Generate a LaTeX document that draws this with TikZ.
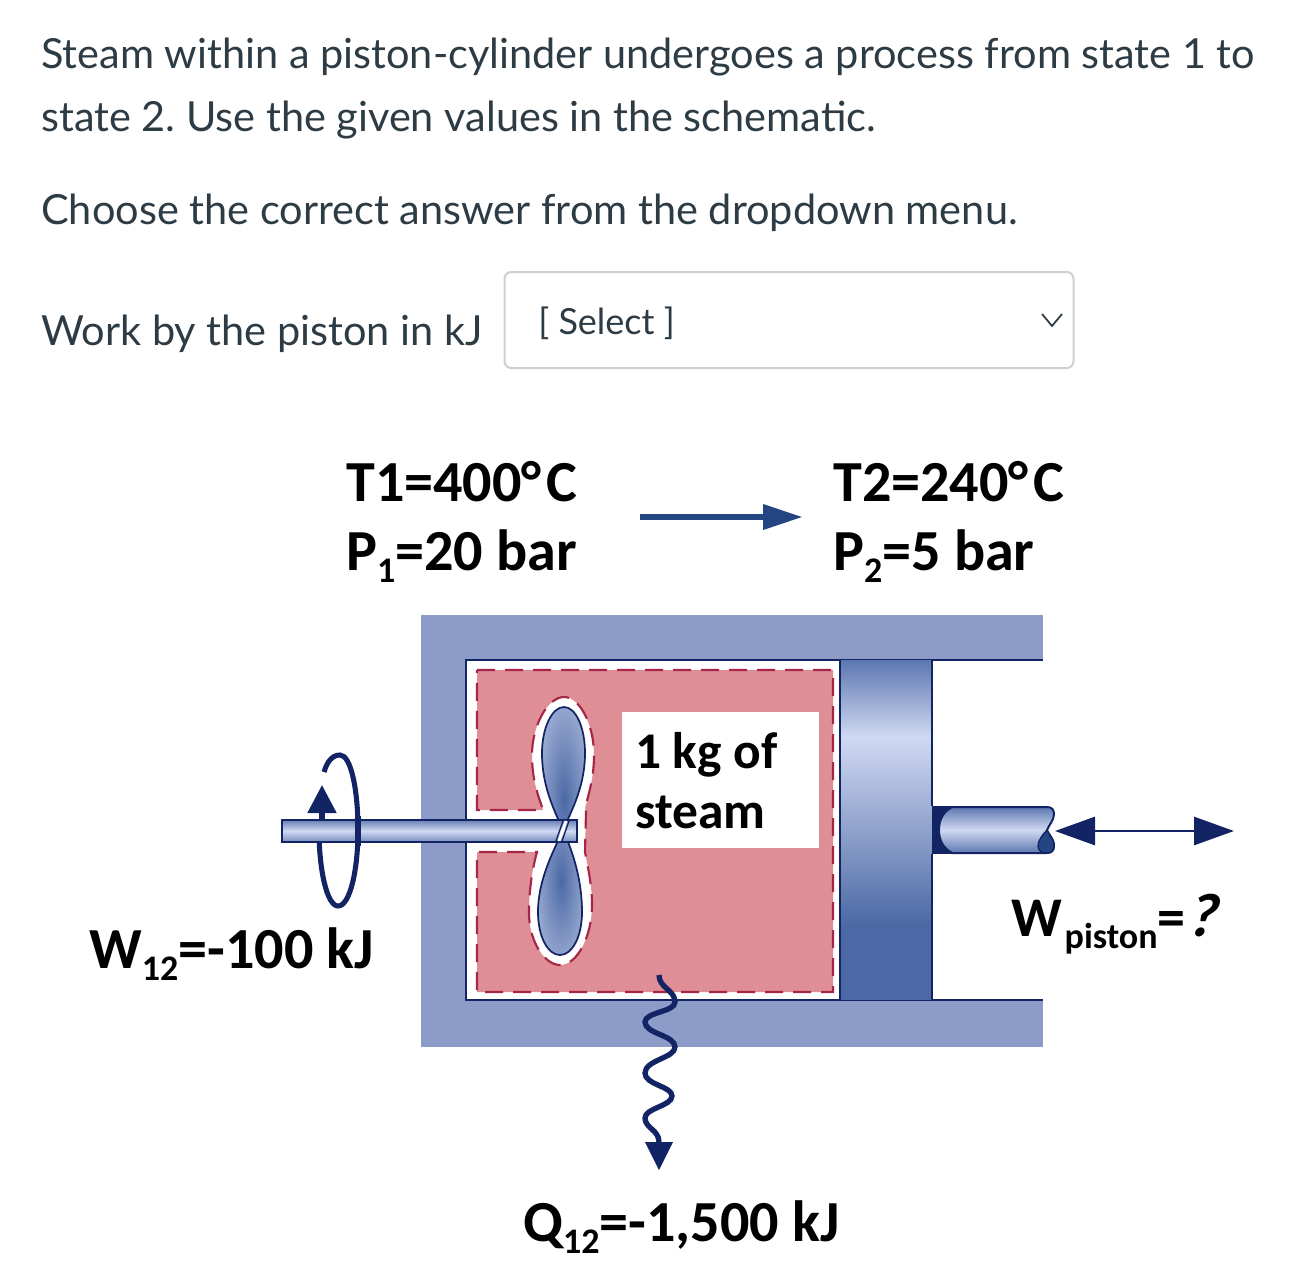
\documentclass[tikz,border=0pt]{standalone}
\usepackage{fontspec}
\setmainfont{Lato}
\newfontfamily\labelfont{Carlito}
\newfontfamily\slantlabel[FakeSlant=0.25]{Carlito Bold}
\usetikzlibrary{arrows.meta}
\frenchspacing

\definecolor{canvastext}{RGB}{45,59,69}
\definecolor{boxline}{RGB}{204,208,210}
\definecolor{wallblue}{RGB}{141,155,200}
\definecolor{navyline}{RGB}{18,36,100}
\definecolor{gaspink}{RGB}{224,142,150}
\definecolor{gasdash}{RGB}{165,38,70}
\definecolor{flowblue}{RGB}{35,70,130}
\definecolor{steelhi}{RGB}{208,217,242}
\definecolor{steelmid}{RGB}{92,119,176}
\definecolor{steellow}{RGB}{76,105,165}

\newcommand{\subtext}[1]{\raisebox{-9.5pt}{\fontsize{27}{27}\selectfont #1}}
\newcommand{\upperlobe}{(563,830) .. controls (553,808) and (542,785) .. (542,753)
	.. controls (542,728) and (552,707) .. (564,707)
	.. controls (576,707) and (585,728) .. (585,753)
	.. controls (585,785) and (573,808) .. (563,830) -- cycle}
\newcommand{\lowerlobe}{(563,830) .. controls (553,852) and (538,880) .. (538,912)
	.. controls (538,937) and (548,955) .. (560,955)
	.. controls (572,955) and (582,937) .. (582,912)
	.. controls (582,880) and (573,852) .. (563,830) -- cycle}

\tikzset{
  question/.style={anchor=base west,inner sep=0pt,text=canvastext,font=\fontsize{31.1}{36}\selectfont},
  given/.style={anchor=base west,inner sep=0pt,text=black,font=\labelfont\bfseries\fontsize{43.6}{50}\selectfont},
  gastext/.style={given,font=\labelfont\bfseries\fontsize{38.6}{46}\selectfont},
  navy/.style={draw=navyline,line width=1.5pt},
  blade/.style={navy,line width=1.3pt},
}

\begin{document}
\begin{tikzpicture}[x=0.75pt,y=0.75pt,yscale=-1,xscale=1]
	\useasboundingbox (0,0) rectangle (1310,1286);
	% question text
	\node[question] (lineone) at (41,68) {Steam within a piston-cylinder undergoes a process from state 1 to};
	\node[question] (linetwo) at (41,131) {state 2. Use the given values in the schematic.};
	\node[question] (linethree) at (41,224) {Choose the correct answer from the dropdown menu.};
	\node[question] (workprompt) at (41,345) {Work by the piston in kJ};
	% dropdown
	\draw[boxline,line width=1.5pt,rounded corners=5pt,fill=white] (504.5,272) rectangle (1073.5,368);
	\node[question,font=\fontsize{27}{32}\selectfont] (selecttext) at (538,334) {[ Select ]};
	\draw[canvastext,line width=1.3pt] (1042,314) -- (1052,326) -- (1062,314);
	% states
	\node[given] (tone) at (346,501) {T1=400°\hspace{3.5pt}C};
	\node[given] (pone) at (346,570) {P\subtext{1}=20 bar};
	\node[given] (ttwo) at (833,501) {T2=240°\hspace{3.5pt}C};
	\node[given] (ptwo) at (833,570) {P\subtext{2}=5 bar};
	\coordinate (statefrom) at (640,517);
	\coordinate (stateto) at (803,517);
	\draw[flowblue,line width=5pt,-{Triangle[length=30pt,width=18pt]}] (statefrom) -- (stateto);
	% cylinder
	\fill[wallblue] (421,615) rectangle (1043,1047);
	\fill[white] (466,660) rectangle (1043,1000);
	\draw[navy] (1043,660) -- (466,660) -- (466,1000) -- (1043,1000);
	% gas region
	\draw[fill=gaspink,draw=gasdash,line width=1.6pt,dash pattern=on 13.5pt off 7.5pt]
		(477,670) -- (833,670) -- (833,992) -- (477,992) -- (477,852) -- (537,852)
		.. controls (532,870) and (529,890) .. (529,913)
		.. controls (529,942) and (545,965) .. (560,965)
		.. controls (578,965) and (592,935) .. (592,905)
		.. controls (592,885) and (588,868) .. (585,852)
		-- (586,812) -- (585,808)
		.. controls (590,790) and (594,775) .. (594,755)
		.. controls (594,725) and (580,697) .. (564,697)
		.. controls (548,697) and (532,725) .. (532,755)
		.. controls (532,780) and (538,795) .. (543,810)
		-- (477,810) -- cycle;
	% paddle wheel
	\begin{scope}
		\clip \upperlobe;
		\shade[inner color=steellow,outer color=steelhi] (564,800) ellipse (44 and 170);
	\end{scope}
	\begin{scope}
		\clip \lowerlobe;
		\shade[inner color=steellow,outer color=steelhi] (561,880) ellipse (44 and 150);
	\end{scope}
	\draw[blade] \upperlobe;
	\draw[blade] \lowerlobe;
	% rotation mark
	\draw[navyline,line width=3.8pt] (324,772) .. controls (327,762) and (332,755) .. (340,755)
		.. controls (351,755) and (358,790) .. (358,830)
		.. controls (358,870) and (350,906) .. (338,906)
		.. controls (327,906) and (319,870) .. (319,830);
	\coordinate (spinfrom) at (322,822);
	\coordinate (spinto) at (322,785);
	\draw[navyline,line width=3.8pt,-{Triangle[length=21pt,width=21pt]}] (spinfrom) -- (spinto);
	% drive shaft
	\draw[navy,top color=steelmid!75!wallblue,bottom color=steelmid!85,middle color=steelhi] (282,820) rectangle (577,842);
	\draw[navyline,line width=4pt] (358,816) -- (358,846);
	\draw[white,line width=2pt] (566,821) -- (559,841);
	\draw[blade,line width=1pt] (569,821) -- (562,841);
	\draw[blade,line width=1pt] (563,821) -- (556,841);
	% piston
	\shade[top color=steelmid,bottom color=steelhi] (840,660) rectangle (932,737);
	\shade[top color=steelhi,bottom color=steellow] (840,737) rectangle (932,925);
	\fill[steellow] (840,925) rectangle (932,1000);
	\draw[navy] (840,660) -- (840,1000);
	\draw[navy] (932,660) -- (932,806);
	\draw[navy] (932,854) -- (932,1000);
	% piston rod
	\fill[navyline] (932,806) -- (952,806) -- (952,854) -- (932,854) -- cycle;
	\draw[navy,top color=steelmid,bottom color=steelmid,middle color=steelhi]
		(952,807) .. controls (943,812) and (939,820) .. (939,830)
		.. controls (939,840) and (943,848) .. (952,853)
		-- (1047,853) .. controls (1052,853) and (1054,850) .. (1054,846)
		.. controls (1054,838) and (1048,834) .. (1047,830)
		.. controls (1049,825) and (1054,820) .. (1054,814)
		.. controls (1054,810) and (1052,807) .. (1047,807) -- cycle;
	\draw[navy,line width=1pt,fill=flowblue] (1047,830) .. controls (1042,835) and (1038,841) .. (1038,846)
		.. controls (1038,850) and (1041,853) .. (1047,853)
		.. controls (1052,853) and (1054,850) .. (1054,846)
		.. controls (1054,838) and (1048,834) .. (1047,830) -- cycle;
	\coordinate (rodleft) at (1055,831);
	\coordinate (rodright) at (1234,831);
	\draw[navyline,line width=2.2pt,{Triangle[length=30pt,width=21pt]}-{Triangle[length=30pt,width=21pt]}] (rodleft) -- (rodright);
	% heat loss
	\coordinate (heatfrom) at (659,975);
	\coordinate (heatto) at (659,1170);
	\draw[navyline,line width=4pt] (heatfrom) .. controls (659,988) and (675,990) .. (675,1002)
		.. controls (675,1012) and (645,1012) .. (645,1022)
		.. controls (645,1034) and (675,1035) .. (675,1047)
		.. controls (675,1058) and (645,1060) .. (645,1073)
		.. controls (645,1085) and (672,1086) .. (672,1096)
		.. controls (672,1106) and (645,1108) .. (645,1118)
		.. controls (645,1128) and (659,1130) .. (659,1142);
	\fill[navyline] (645,1142) -- (673,1142) -- (heatto) -- cycle;
	% labels
	\node[fill=white,minimum width=148pt,minimum height=102pt,inner sep=0pt] (gaslabel) at (720.5,780) {};
	\node[gastext] (massone) at (635,768) {1 kg of};
	\node[gastext] (masstwo) at (635,828) {steam};
	\node[given] (shaftwork) at (89,968) {W\subtext{12}=-100 kJ};
	\node[given,font=\labelfont\bfseries\fontsize{42}{48}\selectfont] (pistonwork) at (1011,936) {W\hspace{2pt}\subtext{piston}=\hspace{1pt}{\slantlabel\fontsize{46}{48}\selectfont ?}};
	\node[given] (heatlabel) at (523,1241) {Q\subtext{12}=-1,500 kJ};
\end{tikzpicture}
\end{document}
